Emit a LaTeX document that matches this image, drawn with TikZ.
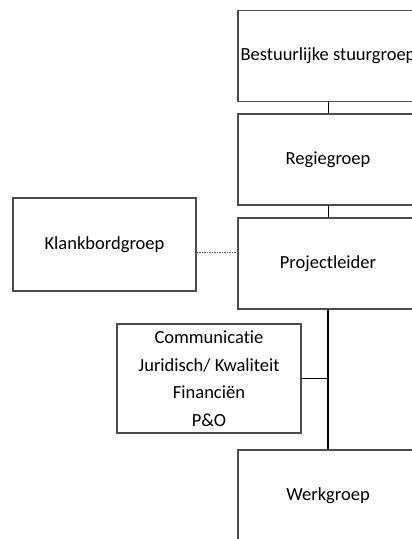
\documentclass[tikz,border=0pt]{standalone}
\usepackage{fontspec}
\setmainfont[Ligatures=CommonOff]{Carlito}
\usetikzlibrary{positioning}

\begin{document}
\begin{tikzpicture}[x=1pt,y=-1pt,
  box/.style={draw=black!70,line width=1.2pt,minimum width=180pt,minimum height=91pt,
    inner sep=0pt,align=center,font=\fontsize{18.5}{27.5}\selectfont},
  link/.style={draw=black,line width=1pt},
  stem/.style={draw=black,line width=1.8pt},
  loose/.style={draw=black!65,line width=1pt,dash pattern=on 1.5pt off 1pt}]
\useasboundingbox (0,0) rectangle (412,539);
\clip (0,0) rectangle (412,539);
% right column
\node[box] (stuur) at (328,56) {Bestuurlijke stuurgroep};
\node[box] (regie) at (328,159.5) {Regiegroep};
\node[box] (proj) at (328,263.5) {Projectleider};
\node[box] (werk) at (328,495.5) {Werkgroep};
% side boxes
\node[box,minimum width=183pt,minimum height=93pt] (klank) at (104.5,244.5) {Klankbordgroep};
\node[box,minimum width=184pt,minimum height=109pt] (staf) at (209,378.5)
  {Communicatie\\Juridisch/ Kwaliteit\\Financiën\\P\&O};
\coordinate (kb) at ([yshift=-7.5pt]klank.east);
\draw[link] (stuur) -- (regie);
\draw[link] (regie) -- (proj);
\draw[stem] (proj) -- (werk);
\draw[link] (staf.east) -- (staf.east -| proj.south);
\draw[loose] (kb) -- (kb -| proj.west);
\end{tikzpicture}
\end{document}
